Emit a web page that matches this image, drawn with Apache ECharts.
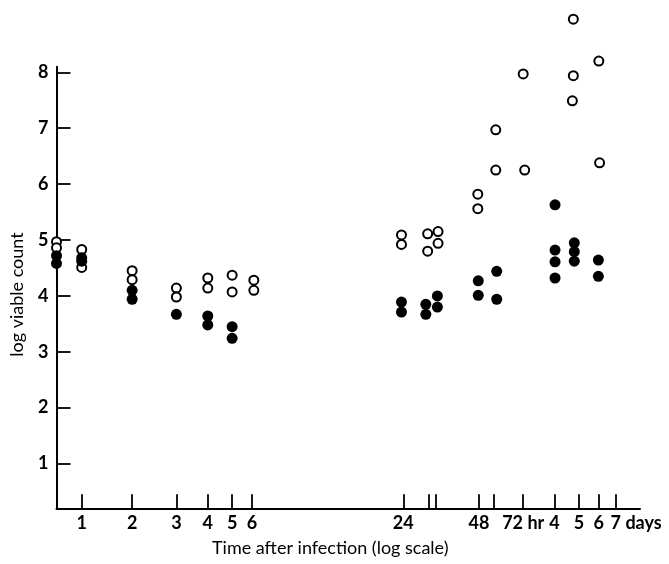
<!DOCTYPE html>
<html>
<head>
<meta charset="utf-8">
<script src="https://cdn.jsdelivr.net/npm/echarts@6/dist/echarts.min.js"></script>
<style>
  html, body { margin: 0; padding: 0; background: #fff; }
  #chart { width: 669px; height: 564px; }
</style>
</head>
<body>
<div id="chart"></div>
<script>
// Time after infection in hours (log axis); value = log viable count
const openCircles = [
  [1.0, 4.97], [1.0, 4.86],
  [1.26, 4.83], [1.26, 4.51],
  [2, 4.45], [2, 4.29],
  [3, 4.14], [3, 3.98],
  [4, 4.32], [4, 4.14],
  [5, 4.37], [5, 4.07],
  [6.1, 4.28], [6.1, 4.10],
  [23.6, 5.09], [23.6, 4.92],
  [30, 5.11], [30, 4.80],
  [33, 5.15], [33, 4.94],
  [47.5, 5.82], [47.5, 5.56],
  [56, 6.97], [56, 6.25],
  [72, 7.97], [73, 6.25],
  [114, 8.95], [114, 7.94], [113, 7.49],
  [144, 8.20], [145, 6.38]
];
const filledCircles = [
  [1.0, 4.72], [1.0, 4.58],
  [1.26, 4.68], [1.26, 4.62],
  [2, 4.10], [2, 3.94],
  [3, 3.67],
  [4, 3.64], [4, 3.48],
  [5, 3.45], [5, 3.24],
  [23.6, 3.89], [23.6, 3.71],
  [29.5, 3.85], [29.5, 3.67],
  [32.8, 4.00], [32.8, 3.80],
  [47.7, 4.27], [47.7, 4.01],
  [56.5, 4.44], [56.5, 3.94],
  [96.4, 5.63], [96.4, 4.82], [96.4, 4.61], [96.4, 4.32],
  [115, 4.95], [115, 4.79], [115, 4.62],
  [143.4, 4.64], [143.4, 4.35]
];
const xTickHours = [1.26, 2, 3, 4, 5, 6, 24, 30.4, 32.4, 48, 55, 72, 96, 120, 144, 168];
const xLabelHours = [1.26, 2, 3, 4, 5, 6, 24, 48, 72, 96, 120, 144, 168];
const xLabelTexts = ['1', '2', '3', '4', '5', '6', '24', '48', '72 hr', '4', '5', '6', '7 days'];
const yTickValues = [1, 2, 3, 4, 5, 6, 7, 8];

const FONT = 'Lato';
const chart = echarts.init(document.getElementById('chart'), null, { renderer: 'canvas' });

chart.setOption({
  animation: false,
  backgroundColor: '#fff',
  grid: { left: 56.5, right: 29, top: 66.7, bottom: 55.7, containLabel: false },
  xAxis: {
    type: 'log',
    logBase: 10,
    min: 1,
    max: 210,
    name: 'Time after infection (log scale)',
    nameLocation: 'middle',
    nameGap: 31,
    nameTextStyle: { fontFamily: FONT, fontSize: 18, color: '#000', padding: [0, 36, 0, 0] },
    axisLine: { show: true, lineStyle: { color: '#000', width: 2 } },
    axisTick: { show: true, inside: true, length: 14, customValues: xTickHours, lineStyle: { color: '#000', width: 1.8 } },
    axisLabel: {
      show: true,
      customValues: xLabelHours,
      margin: 6,
      fontFamily: FONT,
      fontSize: 18,
      fontWeight: 'bold',
      color: '#000',
      formatter: function (v) {
        let idx = -1;
        for (let i = 0; i < xLabelHours.length; i++) {
          if (Math.abs(xLabelHours[i] - v) / xLabelHours[i] < 0.01) { idx = i; break; }
        }
        if (idx < 0) return '';
        const t = xLabelTexts[idx];
        if (t.indexOf('days') >= 0) return '{d|' + t + '}';
        return t;
      },
      rich: { d: { padding: [0, 0, 0, 41], fontFamily: FONT, fontSize: 18, fontWeight: 'bold', color: '#000' } }
    },
    splitLine: { show: false },
    minorTick: { show: false }
  },
  yAxis: {
    type: 'value',
    min: 0.2,
    max: 8.1,
    name: 'log viable count',
    nameLocation: 'middle',
    nameGap: 30,
    nameTextStyle: { fontFamily: FONT, fontSize: 18, color: '#000', padding: [0, 14, 0, 0] },
    axisLine: { show: true, lineStyle: { color: '#000', width: 2 } },
    axisTick: { show: true, inside: true, length: 14, customValues: yTickValues, lineStyle: { color: '#000', width: 1.8 } },
    axisLabel: { show: true, customValues: yTickValues, margin: 8, fontFamily: FONT, fontSize: 18, fontWeight: 'bold', color: '#000' },
    splitLine: { show: false }
  },
  series: [
    {
      name: 'open',
      type: 'scatter',
      clip: false,
      data: openCircles,
      symbol: 'circle',
      symbolSize: 9,
      itemStyle: { color: '#fff', borderColor: '#000', borderWidth: 2, opacity: 1 },
      z: 2
    },
    {
      name: 'filled',
      type: 'scatter',
      clip: false,
      data: filledCircles,
      symbol: 'circle',
      symbolSize: 11,
      itemStyle: { color: '#000', opacity: 1 },
      z: 3
    }
  ]
});
</script>
</body>
</html>
